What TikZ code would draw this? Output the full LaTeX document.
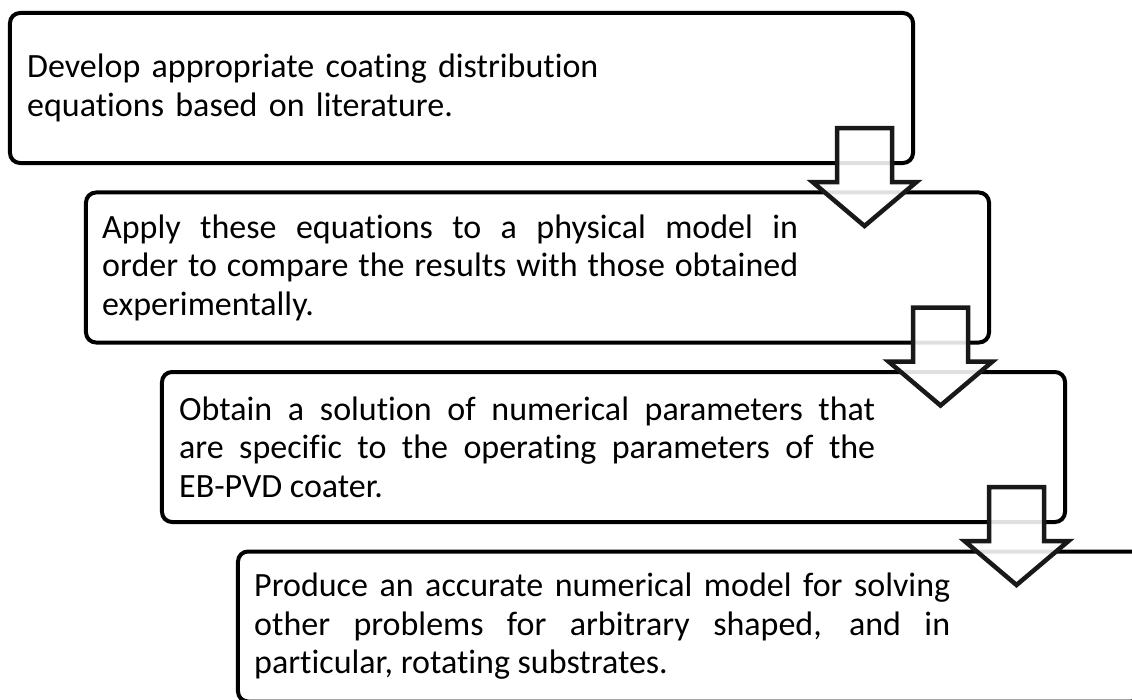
\documentclass[tikz,border=0pt]{standalone}
\usepackage{fontspec}
\setmainfont{Carlito}[Ligatures=NoCommon]
\usetikzlibrary{positioning}
\hyphenpenalty=10000
\exhyphenpenalty=10000

\begin{document}
\begin{tikzpicture}[x = 1bp, y = 1bp, % one unit per pixel
                line join = miter,
                font = \fontsize{34bp}{38.5bp}\selectfont % text size
            ]

            \tikzstyle{stage}=[draw = black, rounded corners = 10bp, line width = 4bp,
            outer sep = 0pt, minimum width = 903bp, minimum height = 150bp]
            \tikzstyle{stagetext}=[anchor = west, inner sep = 0pt, text width = 696bp,
            align = justify]
            \tikzstyle{downarrow}=[draw = black!90, fill = white, fill opacity = 0.88,
            line width = 4.5bp]

            \useasboundingbox (0,0) rectangle (1132,-700);

            % the four steps
            \node[stage] (box1) at (461.5,-88) {}; \node[stage] (box2) at
            ([shift={(76,-179.5)}]box1) {}; \node[stage] (box3) at
            ([shift={(76,-179.5)}]box2) {}; \node[stage] (box4) at
            ([shift={(76,-179.5)}]box3) {};

            \node[stagetext, align = left] (txt1) at ([xshift=17bp]box1.west)
            {Develop appropriate coating distribution\\ equations based on literature.};
            \node[stagetext] (txt2) at ([xshift=16bp]box2.west) {Apply these
            equations to a physical model in order to compare the results with those
            obtained experimentally.};
            \node[stagetext] (txt3) at ([xshift=17bp]box3.west) {Obtain a solution of
            numerical parameters that\linebreak{} are specific to the operating
            parameters of the\linebreak{} EB-PVD coater.};
            \node[stagetext] (txt4) at ([xshift=16bp]box4.west) {Produce an accurate
            numerical model for solving other problems for arbitrary shaped, and in
            particular, rotating substrates.};

            % block arrows between the steps
            \foreach \i in {1,2,3} {
                \path (box\i.south east) ++(-48.5,35) coordinate (a\i);
                \draw[downarrow] (a\i) ++(-27.5,0) -- ++(55,0) -- ++(0,-54)
                -- ++(24.5,0) -- ++(-52,-44) -- ++(-52,44) -- ++(24.5,0) -- cycle;
            }\end{tikzpicture}
\end{document}
